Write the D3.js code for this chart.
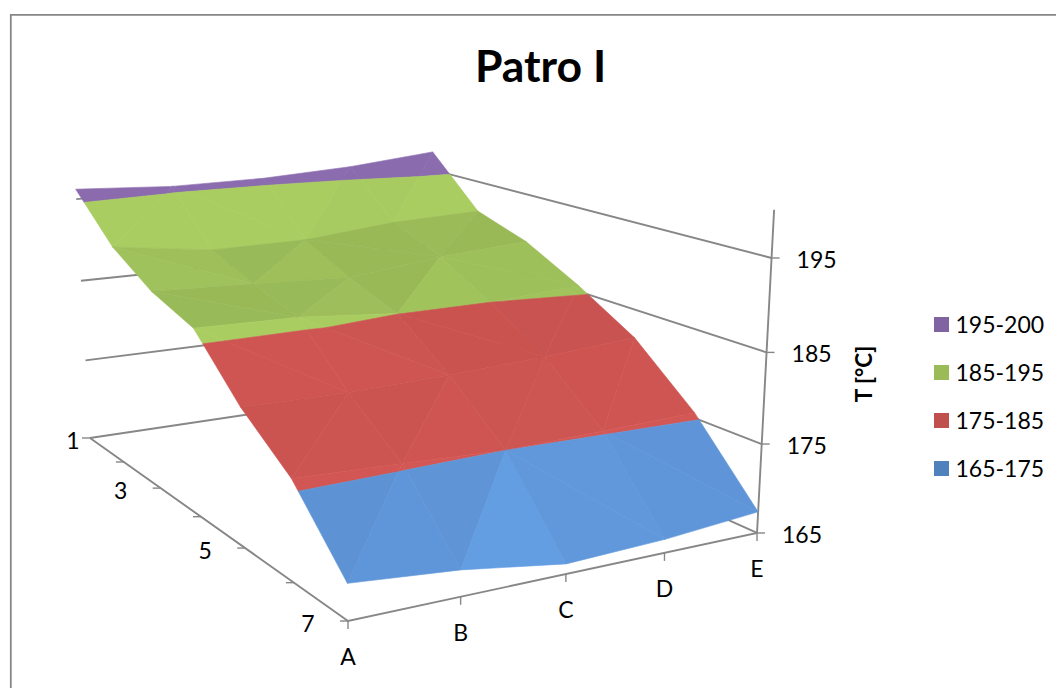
<!DOCTYPE html>
<html>
<head>
<meta charset="utf-8">
<title>Patro I</title>
<script src="https://cdn.jsdelivr.net/npm/d3@7/dist/d3.min.js"></script>
<style>
  html, body { margin: 0; padding: 0; background: #fff; overflow: hidden; }
  svg { display: block; font-family: Lato, "Open Sans", sans-serif; }
</style>
</head>
<body>
<svg id="chart" width="1056" height="688"></svg>
<script>
// Temperature readings, one list per measuring row, columns A to E
const columns = ["A", "B", "C", "D", "E"];
const rows = [1, 2, 3, 4, 5, 6, 7];
const tempRow1 = [196.2, 195.6, 195.7, 196.3, 197.4];
const tempRow2 = [191.1, 189.6, 189.7, 190.8, 191.2];
const tempRow3 = [188.0, 187.6, 187.1, 188.4, 189.1];
const tempRow4 = [186.2, 186.0, 185.05, 185.0, 185.7];
const tempRow5 = [180.3, 180.2, 180.5, 181.0, 181.7];
const tempRow6 = [175.9, 175.5, 175.0, 175.3, 175.6];
const tempRow7 = [168.8, 167.8, 166.1, 166.5, 167.4];
const temps = [tempRow1, tempRow2, tempRow3, tempRow4, tempRow5, tempRow6, tempRow7];

// Which diagonal splits each grid cell: "a" runs left-top to right-bottom, "b" the other way
const cellSplits = [
  ["b", "a", "b", "b"],
  ["a", "b", "a", "b"],
  ["a", "b", "b", "a"],
  ["a", "a", "a", "b"],
  ["b", "b", "b", "b"],
  ["b", "b", "a", "a"]
];

const tempTicks = [165, 175, 185, 195];
const rowLabels = [1, 3, 5, 7];
const bandNames = ["195-200", "185-195", "175-185", "165-175"];
const bandLimits = [[195, 200], [185, 195], [175, 185], [165, 175]];
const legendColors = ["#8064a2", "#9bbb59", "#c0504d", "#4f81bd"];
const surfaceColors = ["#8a6bad", "#a1c35c", "#cc5451", "#6199dd"];
const bandMidLight = [5, 3.5, 5, 9];
const bandContrast = [0.01, 0.03, 0.012, 0.025];

const svg = d3.select("#chart");
const grey = "#878787";

// Scales into the unit cube of the plot box
const uScale = d3.scalePoint().domain(columns).range([0, 1]);
const vScale = d3.scalePoint().domain(rows).range([1, 0]);
const tScale = d3.scaleLinear().domain([165, 195]).range([0, 1]);

// Perspective camera expressed as a projective map of the unit cube
const cam = {
  x: [348, 515, -228.8, -22],
  y: [621, -13.4, -40.8, -326.4],
  w: [1, 0.14, 0.3247, -0.05]
};
function project(u, v, t) {
  const dot = c => c[0] + c[1] * u + c[2] * v + c[3] * t;
  const w = dot(cam.w);
  return [dot(cam.x) / w, dot(cam.y) / w];
}
const at = (col, row, temp) => project(uScale(col), vScale(row), tScale(temp));
const closedPath = d3.line().curve(d3.curveLinearClosed);
const openPath = d3.line();

// Chart frame, running off the right and bottom of the page
svg.append("path")
  .attr("d", "M10.8,688V14.8H1056")
  .attr("fill", "none").attr("stroke", grey).attr("stroke-width", 1.8);

svg.append("text").attr("x", 540.5).attr("y", 82)
  .attr("text-anchor", "middle").attr("font-size", 44.5).attr("font-weight", 700)
  .attr("fill", "#000").text("Patro I");

// Wall gridlines run along the back wall, then forward along the right wall
const first = columns[0], last = columns[columns.length - 1];
const rowBack = rows[0], rowFront = rows[rows.length - 1];
const lineGroup = svg.append("g").attr("fill", "none").attr("stroke", grey).attr("stroke-width", 1.9);
tempTicks.forEach(T => {
  lineGroup.append("path").attr("d", openPath([
    at(first, rowBack, T), at(last, rowBack, T), at(last, rowFront, T)
  ]));
});

// Axis lines along the floor and up the front-right corner
lineGroup.append("path").attr("d", openPath([
  at(first, rowBack, 165), at(first, rowFront, 165), at(last, rowFront, 165), at(last, rowFront, 200)
]));

// Tick marks
const tickGroup = svg.append("g").attr("stroke", grey).attr("stroke-width", 1.4);
columns.forEach(c => {
  const p = at(c, rowFront, 165);
  tickGroup.append("line").attr("x1", p[0]).attr("x2", p[0]).attr("y1", p[1]).attr("y2", p[1] + 8);
});
rows.forEach(r => {
  const p = at(first, r, 165);
  tickGroup.append("line").attr("x1", p[0] - 8).attr("x2", p[0]).attr("y1", p[1]).attr("y2", p[1]);
});
tempTicks.forEach(T => {
  const p = at(last, rowFront, T);
  tickGroup.append("line").attr("x1", p[0]).attr("x2", p[0] + 8).attr("y1", p[1]).attr("y2", p[1]);
});

// Keep the part of a triangle whose temperature lies inside a band
function clipBelow(poly, limit, keepBelow) {
  const inside = p => keepBelow ? p[2] <= limit : p[2] >= limit;
  const out = [];
  poly.forEach((p, i) => {
    const q = poly[(i + 1) % poly.length];
    if (inside(p)) out.push(p);
    if (inside(p) !== inside(q)) {
      const f = (limit - p[2]) / (q[2] - p[2]);
      out.push([p[0] + f * (q[0] - p[0]), p[1] + f * (q[1] - p[1]), limit]);
    }
  });
  return out;
}

// Facet light grows as the surface tips toward the viewer and to the right
function facetLight(a, b, c) {
  const stepU = uScale.step(), stepV = vScale.step();
  const d1 = [(b[0] - a[0]) / stepU, (b[1] - a[1]) / stepV, b[2] - a[2]];
  const d2 = [(c[0] - a[0]) / stepU, (c[1] - a[1]) / stepV, c[2] - a[2]];
  const det = d1[0] * d2[1] - d1[1] * d2[0];
  const gu = (d1[2] * d2[1] - d2[2] * d1[1]) / det;
  const gv = (d1[0] * d2[2] - d2[0] * d1[2]) / det; // per step toward the back
  return gv - 0.6 * gu;
}

function facetColor(band, light) {
  const f = 1 + Math.max(-0.05, Math.min(0.05, bandContrast[band] * (light - bandMidLight[band])));
  const c = d3.rgb(surfaceColors[band]);
  return d3.rgb(c.r * f, c.g * f, c.b * f).formatRgb();
}

// Surface: every grid cell becomes two triangles, each cut into temperature bands
const surface = svg.append("g").attr("stroke-width", 0.6).attr("stroke-linejoin", "round");
cellSplits.forEach((splitRow, i) => {
  splitRow.forEach((split, j) => {
    const corner = (ri, cj) => [uScale(columns[cj]), vScale(rows[ri]), temps[ri][cj]];
    const tl = corner(i, j), tr = corner(i, j + 1), bl = corner(i + 1, j), br = corner(i + 1, j + 1);
    const tris = split === "a" ? [[tl, tr, br], [tl, br, bl]] : [[tl, tr, bl], [tr, br, bl]];
    tris.forEach(tri => {
      const light = facetLight(tri[0], tri[1], tri[2]);
      bandLimits.forEach((lim, b) => {
        let poly = clipBelow(tri, lim[0], false);
        if (poly.length) poly = clipBelow(poly, lim[1], true);
        if (poly.length < 3) return;
        const col = facetColor(b, light);
        surface.append("path")
          .attr("d", closedPath(poly.map(p => project(p[0], p[1], tScale(p[2])))))
          .attr("fill", col).attr("stroke", col);
      });
    });
  });
});

// Axis labels
const labelSize = 23;
const labels = svg.append("g").attr("font-size", labelSize).attr("fill", "#000");
tempTicks.forEach(T => {
  const p = at(last, rowFront, T);
  labels.append("text").attr("x", p[0] + 25).attr("y", p[1] + 10).text(T);
});
columns.forEach(c => {
  const p = at(c, rowFront, 165);
  labels.append("text").attr("x", p[0]).attr("y", p[1] + 44).attr("text-anchor", "middle").text(c);
});
rowLabels.forEach(r => {
  const p = at(first, r, 165);
  labels.append("text").attr("x", Math.max(p[0] - 40, 73)).attr("y", p[1] + 11)
    .attr("text-anchor", "middle").text(r);
});

// Vertical axis title
svg.append("text")
  .attr("transform", "translate(872,374) rotate(-90)")
  .attr("text-anchor", "middle").attr("font-size", 22.5).attr("font-weight", 700)
  .attr("fill", "#000").text("T [°C]");

// Legend
const legendY = d3.scalePoint().domain(bandNames).range([324.5, 468.5]);
bandNames.forEach((name, i) => {
  const y = legendY(name);
  svg.append("rect").attr("x", 934).attr("y", y - 7.5).attr("width", 15).attr("height", 15)
    .attr("fill", legendColors[i]);
  svg.append("text").attr("x", 955.5).attr("y", y + 8).attr("font-size", labelSize)
    .attr("fill", "#000").text(name);
});
</script>
</body>
</html>
